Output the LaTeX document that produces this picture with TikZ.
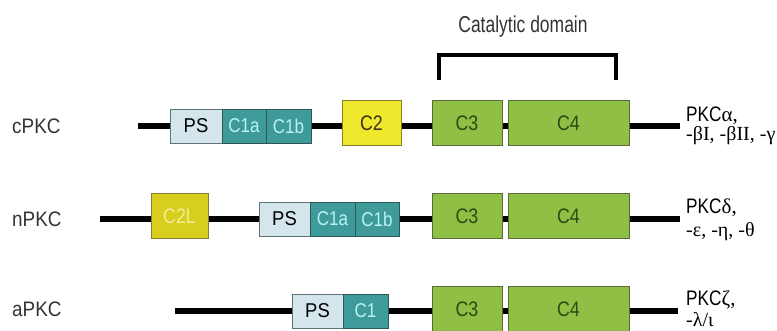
\documentclass[tikz,border=0pt]{standalone}
\usepackage{fontspec}
\setmainfont{Liberation Sans}
\newfontfamily\grfont{Liberation Serif}
\usepackage{graphicx}
\definecolor{psfill}{HTML}{D4E6EC}
\definecolor{psdraw}{HTML}{5E7474}
\definecolor{cofill}{HTML}{3F9A9A}
\definecolor{cotext}{HTML}{B8F2F2}
\definecolor{codraw}{HTML}{2E5858}
\definecolor{ctwofill}{HTML}{F0E82C}
\definecolor{ctwodraw}{HTML}{8A7A30}
\definecolor{ctwotext}{HTML}{3A3212}
\definecolor{clfill}{HTML}{D8CE1E}
\definecolor{cltext}{HTML}{F2EE96}
\definecolor{gfill}{HTML}{8FBF45}
\definecolor{gdraw}{HTML}{5A6A38}
\definecolor{gtext}{HTML}{2B4A12}
\definecolor{lbltext}{HTML}{333333}
\newcommand{\sx}[2]{\scalebox{#1}[1]{#2}}
\tikzset{
  backbone/.style={line width=6.5pt, black, line cap=butt},
  boxbase/.style={anchor=north west, inner sep=0pt, outer sep=0pt, line width=0.8pt},
  psbox/.style={boxbase, draw=psdraw, fill=psfill, minimum height=34pt, text=black,
    font=\fontsize{20}{20}\selectfont},
  cobox/.style={boxbase, draw=codraw, fill=cofill, minimum height=34pt, text=cotext,
    font=\fontsize{20}{20}\selectfont},
  ctwobox/.style={boxbase, draw=ctwodraw, fill=ctwofill, minimum height=45pt, text=ctwotext,
    font=\fontsize{21}{21}\selectfont},
  clbox/.style={boxbase, draw=ctwodraw, fill=clfill, minimum height=45pt, text=cltext,
    font=\fontsize{21}{21}\selectfont},
  gbox/.style={boxbase, draw=gdraw, fill=gfill, minimum height=45pt, text=gtext,
    font=\fontsize{21}{21}\selectfont},
  rowlabel/.style={anchor=base west, inner sep=0pt, text=lbltext, font=\fontsize{21}{21}\selectfont},
  isolabel/.style={anchor=base west, inner sep=0pt, text=black, font=\fontsize{21}{21}\selectfont},
  grlabel/.style={anchor=base west, inner sep=0pt, text=black, font=\fontsize{20}{20}\grfont},
  bracket/.style={line width=3.5pt, black, line cap=butt, line join=miter}
}
\begin{document}
\begin{tikzpicture}[x=1pt, y=-1pt]
\useasboundingbox[fill=white] (0,0) rectangle (777,330);

% title and bracket
\node[anchor=base, inner sep=0pt, text=lbltext, font=\fontsize{23}{23}\selectfont] (cat) at (523,32) {\sx{0.76}{Catalytic domain}};
\coordinate (bl) at (439,80);
\coordinate (br) at (616,80);
\coordinate (bt) at (527,55);
\draw[bracket] (bl) -- (bl |- bt) -- (br |- bt) -- (br);

% row labels
\node[rowlabel] (lc) at (12,133) {\sx{0.9}{cPKC}};
\node[rowlabel] (ln) at (12,226) {\sx{0.9}{nPKC}};
\node[rowlabel] (la) at (12,316) {\sx{0.9}{aPKC}};

% backbones
\coordinate (L1) at (138,126); \coordinate (R1) at (680,126);
\coordinate (L2) at (100,219); \coordinate (R2) at (680,219);
\coordinate (L3) at (175,311); \coordinate (R3) at (678,311);
\draw[backbone] (L1) -- (R1);
\draw[backbone] (L2) -- (R2);
\draw[backbone] (L3) -- (R3);

% row 1: cPKC
\node[psbox, minimum width=52pt] (ps1) at (170,109) {\sx{0.92}{PS}};
\node[cobox, minimum width=44pt] (ca1) at (222,109) {\sx{0.85}{C1a}};
\node[cobox, minimum width=45pt] (cb1) at (266,109) {\sx{0.85}{C1b}};
\node[ctwobox, minimum width=59pt] (ct1) at (342,100.5) {\sx{0.85}{C2}};
\node[gbox, minimum width=70pt] (cth1) at (432,100.5) {\sx{0.85}{C3}};
\node[gbox, minimum width=121pt] (cf1) at (508,100.5) {\sx{0.85}{C4}};

% row 2: nPKC
\node[clbox, minimum width=57pt] (cl2) at (151,193.5) {\sx{0.85}{C2L}};
\node[psbox, minimum width=51pt] (ps2) at (259,202) {\sx{0.92}{PS}};
\node[cobox, minimum width=45pt] (ca2) at (310,202) {\sx{0.85}{C1a}};
\node[cobox, minimum width=44pt] (cb2) at (355,202) {\sx{0.85}{C1b}};
\node[gbox, minimum width=70pt] (cth2) at (432,193.5) {\sx{0.85}{C3}};
\node[gbox, minimum width=121pt] (cf2) at (508,193.5) {\sx{0.85}{C4}};

% row 3: aPKC
\node[psbox, minimum width=51pt] (ps3) at (292,294) {\sx{0.92}{PS}};
\node[cobox, minimum width=45pt] (co3) at (343,294) {\sx{0.85}{C1}};
\node[gbox, minimum width=70pt] (cth3) at (432,286.5) {\sx{0.85}{C3}};
\node[gbox, minimum width=121pt] (cf3) at (508,286.5) {\sx{0.85}{C4}};

% isoform labels
\node[isolabel] (i1a) at (686,121) {\sx{0.82}{PKC}{\grfont α,}};
\node[grlabel] (i1b) at (686,140) {-βI, -βII, -γ};
\node[isolabel] (i2a) at (686,213) {\sx{0.82}{PKC}{\grfont δ,}};
\node[grlabel] (i2b) at (686,236) {-ε, -η, -θ};
\node[isolabel] (i3a) at (686,305) {\sx{0.82}{PKC}{\grfont ζ,}};
\node[grlabel] (i3b) at (686,326) {-λ/ι};
\end{tikzpicture}
\end{document}
